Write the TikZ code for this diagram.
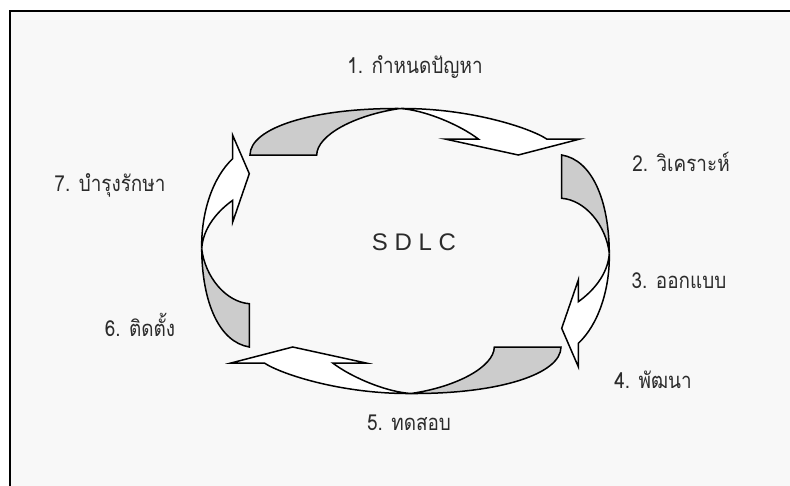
\documentclass[tikz,border=0pt]{standalone}
\usepackage{fontspec}
\setmainfont{Liberation Sans}
\newfontfamily\thaifont[Script=Thai, FakeStretch=0.86]{Loma}
\definecolor{panel}{HTML}{F8F8F8}
\definecolor{shade}{HTML}{CCCCCC}
\definecolor{ink}{HTML}{2B2B2B}

\tikzset{
  backface/.style={draw=black, fill=shade, line width=1.5pt, line join=miter},
  frontface/.style={draw=black, fill=white, line width=1.5pt, line join=miter},
  stagelabel/.style={text=ink, inner sep=0pt, font=\thaifont\fontsize{22}{26}\selectfont},
}

\begin{document}
\begin{tikzpicture}[x=1pt, y=-1pt]
    \useasboundingbox (0,0) rectangle (790,485);
    \clip (0,0) rectangle (790,485);
    \fill [white] (0,0) rectangle (790,485);
    \draw [fill=panel, line width=2.5pt] (10,11) rectangle (820,520);

    % two bent arrows, the other two are the same turned half way round
    \foreach \turn in {0,180} {
        \begin{scope}[rotate around={\turn:(405.5,251)}]
            % upper arrow: grey tail, white head
            \draw [backface] (250,155) .. controls (250,128) and (312,108) .. (400,108.5)
                .. controls (355,115) and (317,135) .. (316.7,155) -- cycle;
            \draw [frontface] (400,108.5) .. controls (470,108) and (530,128) .. (546.7,139)
                -- (580,139) -- (518.3,155) -- (445,139) -- (478.3,139)
                .. controls (460,125) and (425,110) .. (400,108.5) -- cycle;
            % side arrow
            \draw [backface] (561.7,155) .. controls (592,160) and (609,200) .. (609.3,253.3)
                .. controls (606,225) and (585,200) .. (561.7,198.3) -- cycle;
            \draw [frontface] (609.3,253.3) .. controls (610,290) and (598,325) .. (578.3,343.3)
                -- (578.3,366.7) -- (561.7,328.3) -- (578.3,280) -- (578.3,301.7)
                .. controls (592,292) and (608,275) .. (609.3,253.3) -- cycle;
        \end{scope}
    }

    \node (sdlc) at (414,242) [text=ink, font=\fontsize{24}{28}\selectfont] {S D L C};

    \node (plan)     at (415,67)  [stagelabel] {1. กำหนดปัญหา};
    \node (analyse)  at (681,162) [stagelabel] {2. วิเคราะห์};
    \node (design)   at (679,281) [stagelabel] {3. ออกแบบ};
    \node (develop)  at (653,380) [stagelabel] {4. พัฒนา};
    \node (test)     at (409,423) [stagelabel] {5. ทดสอบ};
    \node (install)  at (140,325) [stagelabel] {6. ติดตั้ง};
    \node (maintain) at (110,185) [stagelabel] {7. บำรุงรักษา};
\end{tikzpicture}
\end{document}
